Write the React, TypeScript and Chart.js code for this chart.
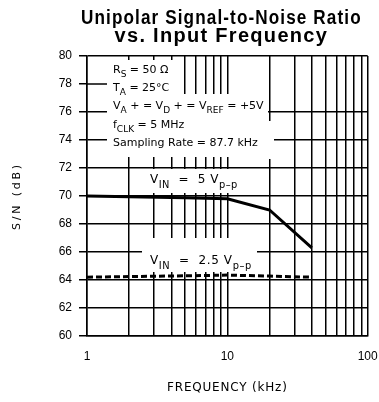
import React, { useEffect, useRef } from 'react';
import { Chart, registerables } from 'chart.js';

Chart.register(...registerables);

// ---- data ----
const TITLE_LINES = ['Unipolar Signal-to-Noise Ratio', 'vs. Input Frequency'];
const X_TITLE = 'FREQUENCY (kHz)';
const Y_TITLE = 'S/N (dB)';

const freq5V = [1, 2, 5, 10, 20, 40];
const snr5V = [70.0, 69.95, 69.88, 69.8, 69.0, 66.3];

const freq25V = [1, 5, 10, 20, 40];
const snr25V = [64.2, 64.3, 64.35, 64.28, 64.2];

const xGridValues = [1, 2, 3, 4, 5, 6, 7, 8, 9, 10, 20, 30, 40, 50, 60, 70, 80, 90, 100];
const xTickLabels = [1, 10, 100];
const Y_MIN = 60;
const Y_MAX = 80;
const Y_STEP = 2;

type Seg = [string, boolean];
const conditionRows: Seg[][] = [
  [['R', false], ['S', true], [' = 50 Ω', false]],
  [['T', false], ['A', true], [' = 25°C', false]],
  [['V', false], ['A', true], [' + = V', false], ['D', true], [' + = V', false], ['REF', true], [' = +5V', false]],
  [['f', false], ['CLK', true], [' = 5 MHz', false]],
  [['Sampling Rate = 87.7 kHz', false]],
];
const label5V: Seg[] = [['V', false], ['IN', true], ['  =  5 V', false], ['p\u2013p', true]];
const label25V: Seg[] = [['V', false], ['IN', true], ['  =  2.5 V', false], ['p\u2013p', true]];

// ---- layout (pixels) ----
const W = 379;
const H = 402;
const masks: [number, number, number, number][] = [
  [107, 60, 180, 157],
  [180, 94, 268, 157],
  [268, 121, 274, 159],
  [142, 169, 240, 193],
  [142, 238, 257, 272],
];
const condX = 113;
const condBaselines = [73, 90.5, 109, 127.5, 146];

function drawRich(ctx: any, segs: Seg[], x: number, y: number, size: number, ls: number) {
  let cx = x;
  ctx.letterSpacing = `${ls}px`;
  for (const [t, sub] of segs) {
    const s = sub ? size * 0.82 : size;
    ctx.font = `${s}px "DejaVu Sans"`;
    ctx.fillText(t, cx, sub ? y + size * 0.38 : y);
    cx += ctx.measureText(t).width;
  }
  ctx.letterSpacing = '0px';
}

function patchDraw(obj: any, method: string, chart: any, fn: (c: any) => void) {
  if (!obj || obj['__p_' + method]) return;
  const orig = obj[method].bind(obj);
  obj[method] = (...args: any[]) => {
    const c: any = chart.ctx;
    c.save();
    fn(c);
    orig(...args);
    c.restore();
  };
  obj['__p_' + method] = true;
}

const annotPlugin = {
  id: 'annotPlugin',
  beforeDraw(chart: any) {
    patchDraw(chart.scales.y, 'drawTitle', chart, (c) => { c.letterSpacing = '2.8px'; });
    patchDraw(chart.scales.x, 'drawTitle', chart, (c) => { c.letterSpacing = '0.8px'; });
    patchDraw(chart.titleBlock, 'draw', chart, (c) => { c.letterSpacing = '1.3px'; c.translate(-6, 0); });
  },
  beforeDatasetsDraw(chart: any) {
    const { ctx, chartArea, scales } = chart;
    ctx.save();
    ctx.fillStyle = '#ffffff';
    for (const [x0, y0, x1, y1] of masks) ctx.fillRect(x0, y0, x1 - x0, y1 - y0);
    // short gridline stub at 78 dB
    const p78 = scales.y.getPixelForValue(78);
    ctx.strokeStyle = '#000';
    ctx.lineWidth = 1.5;
    ctx.beginPath();
    ctx.moveTo(chartArea.left, p78);
    ctx.lineTo(107, p78);
    ctx.stroke();
    ctx.fillStyle = '#000';
    ctx.textAlign = 'left';
    ctx.textBaseline = 'alphabetic';
    conditionRows.forEach((row, i) => drawRich(ctx, row, condX, condBaselines[i], 11, 0));
    drawRich(ctx, label5V, 150, 183, 12, 0.5);
    drawRich(ctx, label25V, 150, 264, 12, 0.6);
    ctx.restore();
  },
};

export default function App() {
  const ref = useRef<HTMLCanvasElement | null>(null);
  useEffect(() => {
    if (!ref.current) return;
    const chart = new Chart(ref.current, {
      type: 'line',
      data: {
        datasets: [
          {
            label: 'VIN = 5 Vp-p',
            data: freq5V.map((f, i) => ({ x: f, y: snr5V[i] })),
            borderColor: '#000',
            borderWidth: 3,
            pointRadius: 0,
            fill: false,
            tension: 0,
          },
          {
            label: 'VIN = 2.5 Vp-p',
            data: freq25V.map((f, i) => ({ x: f, y: snr25V[i] })),
            borderColor: '#000',
            borderWidth: 3,
            borderDash: [6, 3],
            pointRadius: 0,
            fill: false,
            tension: 0,
          },
        ],
      },
      options: {
        responsive: false,
        animation: false,
        devicePixelRatio: 1,
        layout: { padding: { left: 0, right: 0, top: 0, bottom: 0 } },
        plugins: {
          legend: { display: false },
          tooltip: { enabled: false },
          title: {
            display: true,
            text: TITLE_LINES,
            fullSize: false,
            color: '#000',
            font: { family: '"Liberation Sans", Arial, sans-serif', size: 20, weight: 'bold', lineHeight: 0.93 },
            padding: { top: 9, bottom: 9.8 },
          },
        },
        scales: {
          x: {
            type: 'logarithmic',
            min: 1,
            max: 100,
            afterBuildTicks: (scale: any) => {
              scale.ticks = xGridValues.map((v) => ({ value: v }));
            },
            afterFit: (scale: any) => {
              scale.height = 66;
              scale.paddingLeft = 0;
              scale.paddingRight = 11.3;
            },
            grid: { color: '#000', lineWidth: 1.5, drawTicks: false },
            border: { display: true, color: '#000', width: 1.5 },
            ticks: {
              autoSkip: false,
              maxRotation: 0,
              color: '#000',
              padding: 13,
              font: { family: '"Liberation Sans Narrow", "Liberation Sans", sans-serif', size: 12 },
              callback: (v: any) => (xTickLabels.includes(Number(v)) ? String(v) : ''),
            },
            title: {
              display: true,
              text: X_TITLE,
              color: '#000',
              font: { family: '"DejaVu Sans", sans-serif', size: 12 },
              padding: { top: 0, bottom: 7 },
            },
          },
          y: {
            type: 'linear',
            min: Y_MIN,
            max: Y_MAX,
            afterFit: (scale: any) => {
              scale.width = 87;
            },
            grid: {
              color: (c: any) => (c.tick && c.tick.value === 78 ? 'rgba(0,0,0,0)' : '#000'),
              tickColor: '#000',
              lineWidth: 1.5,
              drawTicks: true,
              tickLength: 8,
            },
            border: { display: true, color: '#000', width: 1.5 },
            ticks: {
              stepSize: Y_STEP,
              color: '#000',
              padding: 7,
              font: { family: '"Liberation Sans", Arial, sans-serif', size: 12 },
            },
            title: {
              display: true,
              text: Y_TITLE,
              color: '#000',
              font: { family: '"DejaVu Sans", sans-serif', size: 11 },
              padding: { top: 11, bottom: 0 },
            },
          },
        },
      },
      plugins: [annotPlugin],
    } as any);
    return () => chart.destroy();
  }, []);
  return (
    <div style={{ position: 'absolute', left: 0, top: 0, width: W, height: H, background: '#fff' }}>
      <canvas ref={ref} width={W} height={H} style={{ display: 'block', width: W, height: H }} />
    </div>
  );
}
